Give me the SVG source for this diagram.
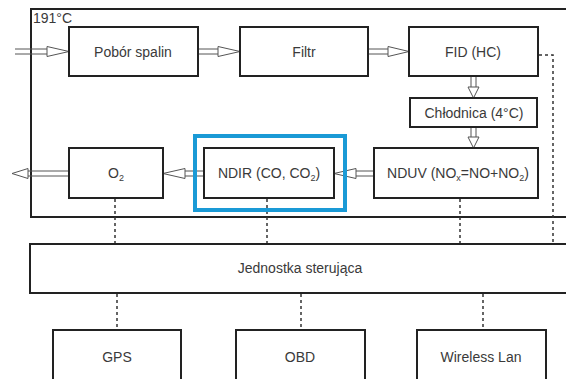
<svg xmlns="http://www.w3.org/2000/svg" width="566" height="379" viewBox="0 0 566 379">
<style>
.box{fill:#fff;stroke:#222;stroke-width:2}
.frame{fill:none;stroke:#222;stroke-width:2}
.t{font-family:"Liberation Sans",Arial,sans-serif;font-size:14px;fill:#3a3a3a;text-anchor:middle}
.sub{font-size:9px}
.dot{fill:none;stroke:#333;stroke-width:1.5;stroke-dasharray:3 3}
.arr{fill:none;stroke:#555;stroke-width:1}
.head{fill:#fff;stroke:#555;stroke-width:1}
</style>
<rect width="566" height="379" fill="#fff"/>
<g id="frame191">
<path class="frame" d="M580 9 H31 V217 H580"/>
<text class="t" x="33" y="23" style="text-anchor:start">191°C</text>
</g>
<g id="connectors">
<path class="dot" d="M115 199 V244 M267 199 V244 M460 199 V244 M539 55 H553 V244 M117 294 V330 M301 294 V330 M483 294 V330"/>
<path class="arr" d="M15 49 H47 M15 54 H47"/>
<path class="head" d="M47 46.5 L69 51.5 L47 56.5 Z"/>
<path class="arr" d="M199 49 H218 M199 54 H218"/>
<path class="head" d="M218 46.5 L240 51.5 L218 56.5 Z"/>
<path class="arr" d="M369 49 H388 M369 54 H388"/>
<path class="head" d="M388 46.5 L409 51.5 L388 56.5 Z"/>
<path class="arr" d="M471 77 V87 M476 77 V87"/>
<path class="head" d="M468 87 L473.5 98 L479 87 Z"/>
<path class="arr" d="M471 128 V137 M476 128 V137"/>
<path class="head" d="M468 137 L473.5 148 L479 137 Z"/>
<path class="arr" d="M356 171 H373 M356 176 H373"/>
<path class="head" d="M356 168.5 L334 173.5 L356 178.5 Z"/>
<path class="arr" d="M185 171 H203 M185 176 H203"/>
<path class="head" d="M185 168.5 L163 173.5 L185 178.5 Z"/>
<path class="arr" d="M28 171 H68 M28 176 H68"/>
<path class="head" d="M28 168.5 L12 173.5 L28 178.5 Z"/>
</g>
<g id="pobor">
<rect class="box" x="69" y="27" width="129" height="49"/>
<text class="t" x="133" y="57">Pobór spalin</text>
</g>
<g id="filtr">
<rect class="box" x="240" y="27" width="128" height="49"/>
<text class="t" x="304" y="57">Filtr</text>
</g>
<g id="fid">
<rect class="box" x="409" y="27" width="129" height="49"/>
<text class="t" x="473" y="57">FID (HC)</text>
</g>
<g id="chlodnica">
<rect class="box" x="410" y="98" width="127" height="29"/>
<text class="t" x="474" y="118">Chłodnica (4°C)</text>
</g>
<g id="nduv">
<rect class="box" x="374" y="148" width="164" height="50"/>
<text class="t" x="458" y="178">NDUV (NO<tspan class="sub" dy="3">x</tspan><tspan dy="-3">=NO+NO</tspan><tspan class="sub" dy="3">2</tspan><tspan dy="-3">)</tspan></text>
</g>
<g id="ndir">
<rect class="box" x="204" y="148" width="130" height="50"/>
<text class="t" x="269" y="178">NDIR (CO, CO<tspan class="sub" dy="3">2</tspan><tspan dy="-3">)</tspan></text>
<rect x="195" y="136" width="150" height="74" fill="none" stroke="#1a9ad6" stroke-width="4"/>
</g>
<g id="o2">
<rect class="box" x="69" y="148" width="94" height="50"/>
<text class="t" x="116" y="178">O<tspan class="sub" dy="3">2</tspan></text>
</g>
<g id="jednostka">
<rect class="box" x="30" y="244" width="560" height="49"/>
<text class="t" x="300" y="273">Jednostka sterująca</text>
</g>
<g id="gps">
<rect class="box" x="53" y="330" width="128" height="60"/>
<text class="t" x="117" y="362">GPS</text>
</g>
<g id="obd">
<rect class="box" x="236" y="330" width="129" height="60"/>
<text class="t" x="300" y="362">OBD</text>
</g>
<g id="wireless">
<rect class="box" x="417" y="330" width="129" height="60"/>
<text class="t" x="481" y="362">Wireless Lan</text>
</g>
</svg>
